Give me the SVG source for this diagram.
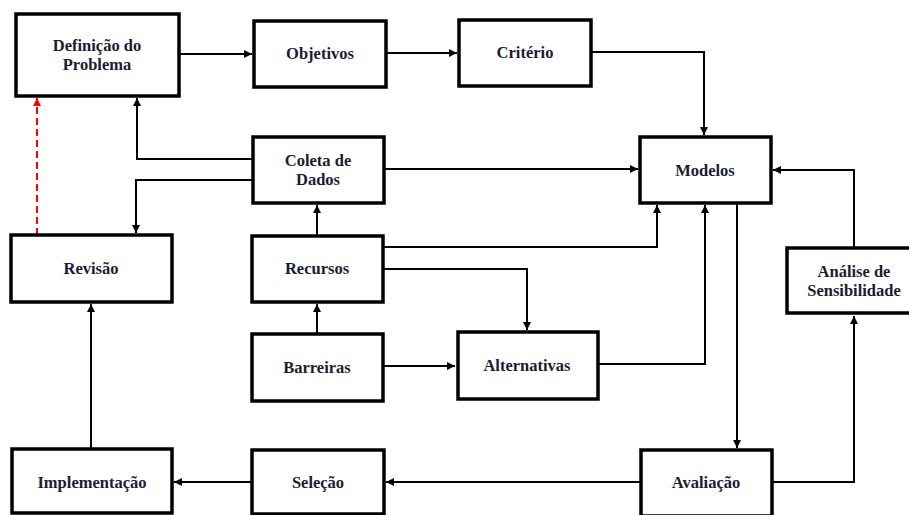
<svg xmlns="http://www.w3.org/2000/svg" width="909" height="515" viewBox="0 0 909 515">
  <style>
    .box { fill: #ffffff; stroke: #000000; stroke-width: 3.5; }
    .lbl { font-family: "Liberation Serif", "Times New Roman", serif; font-weight: bold; font-size: 16.5px; fill: #1c1c30; text-anchor: middle; dominant-baseline: central; }
    .wire { fill: none; stroke: #000000; stroke-width: 2; }
    .wire.fb { stroke: #ff0000; stroke-dasharray: 7 4; }
  </style>
  <defs>
    <marker id="arr" markerUnits="userSpaceOnUse" markerWidth="9" markerHeight="8" refX="8" refY="4" orient="auto">
      <path d="M0,0 L8,4 L0,8 z" fill="#000000"/>
    </marker>
    <marker id="arrRed" markerUnits="userSpaceOnUse" markerWidth="9" markerHeight="8" refX="8" refY="4" orient="auto">
      <path d="M0,0 L8,4 L0,8 z" fill="#ff0000"/>
    </marker>
  </defs>

  <rect width="909" height="515" fill="#ffffff"/>

  <g id="connectors">
    <path class="wire" d="M179,54 H252" marker-end="url(#arr)"/>
    <path class="wire" d="M386,53 H457" marker-end="url(#arr)"/>
    <path class="wire" d="M591,52 H704 V135" marker-end="url(#arr)"/>
    <path class="wire" d="M384,169 H638" marker-end="url(#arr)"/>
    <path class="wire" d="M854,248 V170 H773" marker-end="url(#arr)"/>
    <path class="wire" d="M382,247 H657 V205" marker-end="url(#arr)"/>
    <path class="wire" d="M598,364 H705 V205" marker-end="url(#arr)"/>
    <path class="wire" d="M737,203 V448" marker-end="url(#arr)"/>
    <path class="wire" d="M772,482 H854 V316" marker-end="url(#arr)"/>
    <path class="wire" d="M641,482 H386" marker-end="url(#arr)"/>
    <path class="wire" d="M252,482 H174" marker-end="url(#arr)"/>
    <path class="wire" d="M91,449 V304" marker-end="url(#arr)"/>
    <path class="wire" d="M253,159 H137 V98" marker-end="url(#arr)"/>
    <path class="wire" d="M257,180 H136 V233" marker-end="url(#arr)"/>
    <path class="wire" d="M317,235 V205" marker-end="url(#arr)"/>
    <path class="wire" d="M383,269 H527 V330" marker-end="url(#arr)"/>
    <path class="wire" d="M317,334 V304" marker-end="url(#arr)"/>
    <path class="wire" d="M383,366 H455" marker-end="url(#arr)"/>
    <path class="wire fb" d="M37,235 V98" marker-end="url(#arrRed)"/>
  </g>

  <g id="definicao">
    <rect class="box" x="16" y="14" width="163" height="82"/>
    <text class="lbl" x="97" y="45">Definição do</text>
    <text class="lbl" x="97" y="64">Problema</text>
  </g>
  <g id="objetivos">
    <rect class="box" x="254" y="21" width="132" height="66"/>
    <text class="lbl" x="320" y="53">Objetivos</text>
  </g>
  <g id="criterio">
    <rect class="box" x="459" y="20" width="132" height="66"/>
    <text class="lbl" x="525" y="52">Critério</text>
  </g>
  <g id="coleta">
    <rect class="box" x="253" y="137" width="131" height="66"/>
    <text class="lbl" x="318" y="160">Coleta de</text>
    <text class="lbl" x="318" y="179">Dados</text>
  </g>
  <g id="modelos">
    <rect class="box" x="640" y="137" width="131" height="66"/>
    <text class="lbl" x="705" y="170">Modelos</text>
  </g>
  <g id="revisao">
    <rect class="box" x="11" y="235" width="161" height="67"/>
    <text class="lbl" x="91" y="268">Revisão</text>
  </g>
  <g id="recursos">
    <rect class="box" x="252" y="236" width="131" height="66"/>
    <text class="lbl" x="317" y="268">Recursos</text>
  </g>
  <g id="analise">
    <rect class="box" x="787" y="248" width="134" height="65"/>
    <text class="lbl" x="854" y="271">Análise de</text>
    <text class="lbl" x="854" y="290">Sensibilidade</text>
  </g>
  <g id="barreiras">
    <rect class="box" x="252" y="334" width="131" height="67"/>
    <text class="lbl" x="317" y="367">Barreiras</text>
  </g>
  <g id="alternativas">
    <rect class="box" x="458" y="332" width="140" height="67"/>
    <text class="lbl" x="527" y="365">Alternativas</text>
  </g>
  <g id="implementacao">
    <rect class="box" x="12" y="449" width="160" height="64"/>
    <text class="lbl" x="92" y="482">Implementação</text>
  </g>
  <g id="selecao">
    <rect class="box" x="252" y="450" width="132" height="64"/>
    <text class="lbl" x="318" y="482">Seleção</text>
  </g>
  <g id="avaliacao">
    <rect class="box" x="641" y="450" width="131" height="66"/>
    <text class="lbl" x="706" y="482">Avaliação</text>
  </g>
</svg>
